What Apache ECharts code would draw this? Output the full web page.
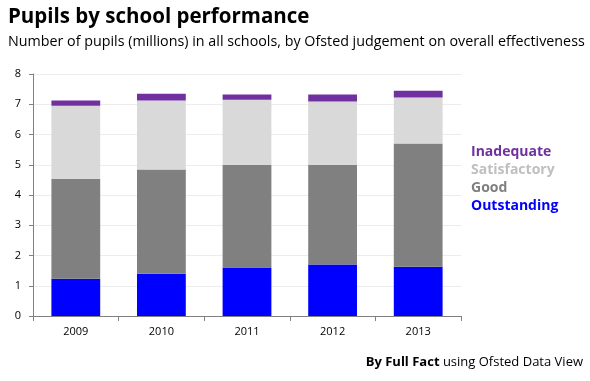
<!DOCTYPE html>
<html><head><meta charset="utf-8">
<script src="https://cdn.jsdelivr.net/npm/echarts@6/dist/echarts.min.js"></script>
<style>html,body{margin:0;padding:0;background:#fff}#c{width:590px;height:381px}</style>
</head><body><div id="c"></div>
<script>
const years = ['2009','2010','2011','2012','2013'];
const outstanding = [1.23, 1.40, 1.60, 1.70, 1.63];
const good = [3.31, 3.44, 3.40, 3.30, 4.07];
const satisfactory = [2.41, 2.28, 2.15, 2.09, 1.52];
const inadequate = [0.17, 0.23, 0.17, 0.23, 0.23];
const yTicks = [0,1,2,3,4,5,6,7,8];

const colors = {Outstanding:'#0000ff', Good:'#808080', Satisfactory:'#d9d9d9', Inadequate:'#7030a0'};
const legendColors = {Outstanding:'#0000ff', Good:'#7f7f7f', Satisfactory:'#bfbfbf', Inadequate:'#7030a0'};
const font = '"Open Sans", sans-serif';

const chart = echarts.init(document.getElementById('c'), null, {renderer:'canvas'});
function mk(name, data){
  return {name, type:'bar', stack:'a', data, barWidth:'57%', itemStyle:{color:colors[name]}, emphasis:{disabled:true}};
}
chart.setOption({
  animation:false,
  textStyle:{fontFamily:font},
  title:[
    {text:'Pupils by school performance', left:3, top:2, textStyle:{fontFamily:font, fontSize:20.5, fontWeight:'bold', color:'#000'}},
    {text:'Number of pupils (millions) in all schools, by Ofsted judgement on overall effectiveness', left:3, top:30, textStyle:{fontFamily:font, fontSize:14.3, fontWeight:'normal', color:'#000'}}
  ],
  legend:{
    orient:'vertical', left:461, top:140, itemGap:4, itemWidth:0, itemHeight:0, icon:'none',
    selectedMode:false,
    data:['Inadequate','Satisfactory','Good','Outstanding'].map(n=>({name:n, textStyle:{color:legendColors[n], fontSize:14, fontWeight:'bold', fontFamily:font}}))
  },
  grid:{left:33, right:129, top:74, bottom:65, containLabel:false},
  xAxis:{type:'category', data:years,
    axisLine:{lineStyle:{color:'#808080'}},
    axisTick:{show:true, length:5, lineStyle:{color:'#808080'}},
    axisLabel:{color:'#000', fontSize:11, margin:10}},
  yAxis:{type:'value', min:yTicks[0], max:yTicks[yTicks.length-1], interval:1,
    axisLine:{show:true, lineStyle:{color:'#808080'}},
    axisTick:{show:true, length:4, lineStyle:{color:'#808080'}},
    axisLabel:{color:'#000', fontSize:11, margin:12},
    splitLine:{lineStyle:{color:'#ececec'}}},
  series:[mk('Outstanding',outstanding), mk('Good',good), mk('Satisfactory',satisfactory), mk('Inadequate',inadequate)],
  graphic:[{type:'text', right:7, top:356, style:{
    text:'{b|By Full Fact} using Ofsted Data View',
    rich:{b:{fontWeight:'bold', fontSize:13, fontFamily:font, fill:'#000'}},
    fontSize:13, fontFamily:font, fill:'#000'}}]
});
</script></body></html>
